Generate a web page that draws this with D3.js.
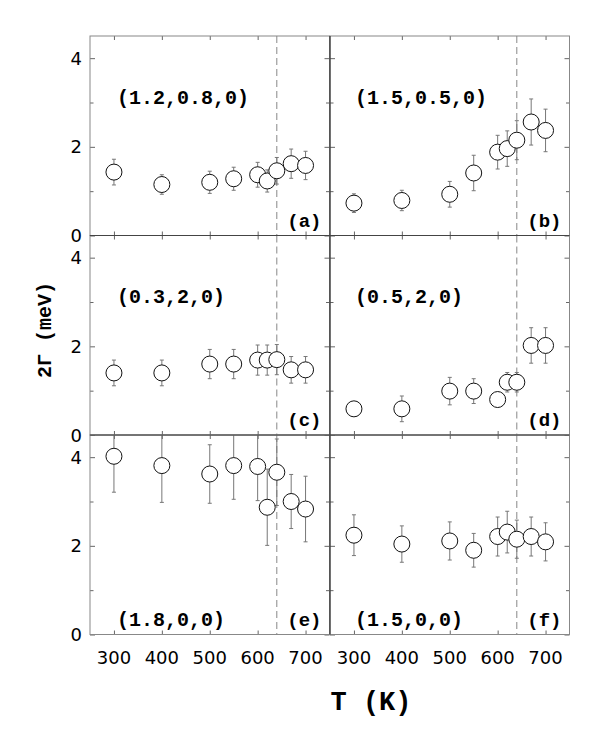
<!DOCTYPE html>
<html>
<head>
<meta charset="utf-8">
<script src="https://cdn.jsdelivr.net/npm/d3@7"></script>
<style>
  body { margin: 0; background: #fff; }
</style>
</head>
<body>
<svg id="chart" width="598" height="747"></svg>
<script>
// Temperatures (K) measured in every panel
const temps = [300, 400, 500, 550, 600, 620, 640, 670, 700];
const xTicks = [300, 400, 500, 600, 700];
const yTicksMajor = [0, 2, 4];
const yTicksMinor = [1, 3];
const transitionT = 640;

// 2Γ (meV) and error per panel
const valsA = [1.43, 1.15, 1.20, 1.28, 1.37, 1.23, 1.46, 1.62, 1.58];
const errA  = [0.29, 0.22, 0.25, 0.26, 0.28, 0.25, 0.30, 0.33, 0.32];
const valsB = [0.73, 0.79, 0.93, 1.41, 1.88, 1.96, 2.15, 2.56, 2.37];
const errB  = [0.21, 0.23, 0.29, 0.40, 0.38, 0.40, 0.44, 0.52, 0.48];
const valsC = [1.40, 1.40, 1.60, 1.60, 1.69, 1.69, 1.70, 1.47, 1.47];
const errC  = [0.29, 0.29, 0.33, 0.33, 0.34, 0.34, 0.34, 0.30, 0.30];
const valsD = [0.59, 0.59, 0.99, 0.99, 0.80, 1.19, 1.19, 2.02, 2.02];
const errD  = [0.15, 0.29, 0.31, 0.28, 0.15, 0.22, 0.22, 0.40, 0.40];
const valsE = [4.02, 3.81, 3.62, 3.81, 3.79, 2.87, 3.66, 3.00, 2.83];
const errE  = [0.81, 0.83, 0.66, 0.76, 0.77, 0.86, 0.75, 0.61, 0.74];
const valsF = [2.24, 2.04, 2.11, 1.90, 2.21, 2.31, 2.15, 2.21, 2.09];
const errF  = [0.46, 0.41, 0.43, 0.38, 0.44, 0.47, 0.43, 0.44, 0.43];

const qLabels = ['(1.2,0.8,0)', '(1.5,0.5,0)', '(0.3,2,0)', '(0.5,2,0)', '(1.8,0,0)', '(1.5,0,0)'];
const letters = ['(a)', '(b)', '(c)', '(d)', '(e)', '(f)'];

const panels = [
  { vals: valsA, errs: errA }, { vals: valsB, errs: errB },
  { vals: valsC, errs: errC }, { vals: valsD, errs: errD },
  { vals: valsE, errs: errE }, { vals: valsF, errs: errF }
].map((p, i) => ({ ...p, q: qLabels[i], letter: letters[i], col: i % 2, row: Math.floor(i / 2) }));

const svg = d3.select('#chart');
const colX = [90, 330];
const rowY = [36, 235.5, 435];
const pw = 239.5, ph = 199.5;

const monoFont = "'Liberation Mono', 'DejaVu Sans Mono', monospace";
const tickFont = "'DejaVu Sans', sans-serif";

const xScale = d3.scaleLinear().domain([250, 750]).range([0, pw]);
const yScale = d3.scaleLinear().domain([0, 4.5]).range([ph, 0]);

const defs = svg.append('defs');

panels.forEach((p, i) => {
  const g = svg.append('g')
    .attr('transform', `translate(${colX[p.col]},${rowY[p.row]})`);

  defs.append('clipPath').attr('id', `clip${i}`)
    .append('rect').attr('width', pw).attr('height', ph);

  // Ticks on all four sides, pointing inward
  const styleAxis = a => {
    a.select('.domain').remove();
    a.selectAll('.tick line').attr('stroke', '#666');
  };
  g.append('g').attr('transform', `translate(0,${ph})`)
    .call(d3.axisBottom(xScale).tickValues(xTicks).tickSizeInner(-4).tickSizeOuter(0).tickFormat(''))
    .call(styleAxis);
  g.append('g')
    .call(d3.axisTop(xScale).tickValues(xTicks).tickSizeInner(-4).tickSizeOuter(0).tickFormat(''))
    .call(styleAxis);
  [[0, d3.axisLeft], [pw, d3.axisRight]].forEach(([tx, axisFn]) => {
    g.append('g').attr('transform', `translate(${tx},0)`)
      .call(axisFn(yScale).tickValues(yTicksMajor).tickSizeInner(-5).tickSizeOuter(0).tickFormat(''))
      .call(styleAxis);
    g.append('g').attr('transform', `translate(${tx},0)`)
      .call(axisFn(yScale).tickValues(yTicksMinor).tickSizeInner(-3.5).tickSizeOuter(0).tickFormat(''))
      .call(styleAxis);
  });

  // Transition temperature
  g.append('line')
    .attr('x1', xScale(transitionT)).attr('x2', xScale(transitionT))
    .attr('y1', 0).attr('y2', ph)
    .attr('stroke', '#888')
    .attr('stroke-width', 1)
    .attr('stroke-dasharray', '7,4');

  const pts = temps.map((t, k) => ({ t, v: p.vals[k], e: p.errs[k] }));
  const marks = g.append('g').attr('clip-path', `url(#clip${i})`);

  // Error bars
  marks.selectAll('.err')
    .data(pts)
    .enter()
    .append('path')
    .attr('class', 'err')
    .attr('fill', 'none')
    .attr('stroke', '#777')
    .attr('stroke-width', 1)
    .attr('d', d => {
      const x = xScale(d.t), y1 = yScale(d.v + d.e), y2 = yScale(d.v - d.e);
      return `M${x},${y1}V${y2}M${x - 2},${y1}H${x + 2}M${x - 2},${y2}H${x + 2}`;
    });

  marks.selectAll('.pt')
    .data(pts)
    .enter()
    .append('circle')
    .attr('class', 'pt')
    .attr('cx', d => xScale(d.t))
    .attr('cy', d => yScale(d.v))
    .attr('r', 8)
    .attr('fill', '#fff')
    .attr('stroke', '#111')
    .attr('stroke-width', 1);

  // Frame
  g.append('rect')
    .attr('width', pw).attr('height', ph)
    .attr('fill', 'none')
    .attr('stroke', '#888')
    .attr('stroke-width', 1);

  // Labels
  g.append('text')
    .attr('x', p.col === 0 ? 27 : 25)
    .attr('y', p.row < 2 ? 62 : ph - 14)
    .attr('dominant-baseline', 'central')
    .attr('font-family', monoFont)
    .attr('font-weight', 'bold')
    .attr('font-size', 20)
    .text(p.q);
  g.append('text')
    .attr('x', pw - 8)
    .attr('y', ph - 14)
    .attr('text-anchor', 'end')
    .attr('dominant-baseline', 'central')
    .attr('font-family', monoFont)
    .attr('font-weight', 'bold')
    .attr('font-size', 19)
    .text(p.letter);

  if (p.col === 0) {
    g.selectAll('.ylab')
      .data(yTicksMajor)
      .enter()
      .append('text')
      .attr('x', -8)
      .attr('y', d => yScale(d))
      .attr('text-anchor', 'end')
      .attr('dominant-baseline', 'central')
      .attr('font-family', tickFont)
      .attr('font-size', 18)
      .text(d => d);
  }
  if (p.row === 2) {
    g.selectAll('.xlab')
      .data(xTicks)
      .enter()
      .append('text')
      .attr('x', d => xScale(d))
      .attr('y', ph + 23)
      .attr('text-anchor', 'middle')
      .attr('dominant-baseline', 'central')
      .attr('font-family', tickFont)
      .attr('font-size', 18)
      .text(d => d);
  }
});

// Inner dividers are darker than the outer frame
svg.append('line')
  .attr('x1', colX[1]).attr('x2', colX[1])
  .attr('y1', rowY[0]).attr('y2', rowY[2] + ph)
  .attr('stroke', '#222');
[rowY[1], rowY[2]].forEach(y => {
  svg.append('line')
    .attr('x1', colX[0]).attr('x2', colX[1] + pw)
    .attr('y1', y).attr('y2', y)
    .attr('stroke', '#444');
});

// Axis titles
svg.append('text')
  .attr('x', 371)
  .attr('y', 703)
  .attr('text-anchor', 'middle')
  .attr('dominant-baseline', 'central')
  .attr('font-family', monoFont)
  .attr('font-weight', 'bold')
  .attr('font-size', 27)
  .text('T (K)');
svg.append('text')
  .attr('transform', 'translate(45,330) rotate(-90)')
  .attr('text-anchor', 'middle')
  .attr('dominant-baseline', 'central')
  .attr('font-family', monoFont)
  .attr('font-weight', 'bold')
  .attr('font-size', 20)
  .text('2Γ (meV)');
</script>
</body>
</html>
